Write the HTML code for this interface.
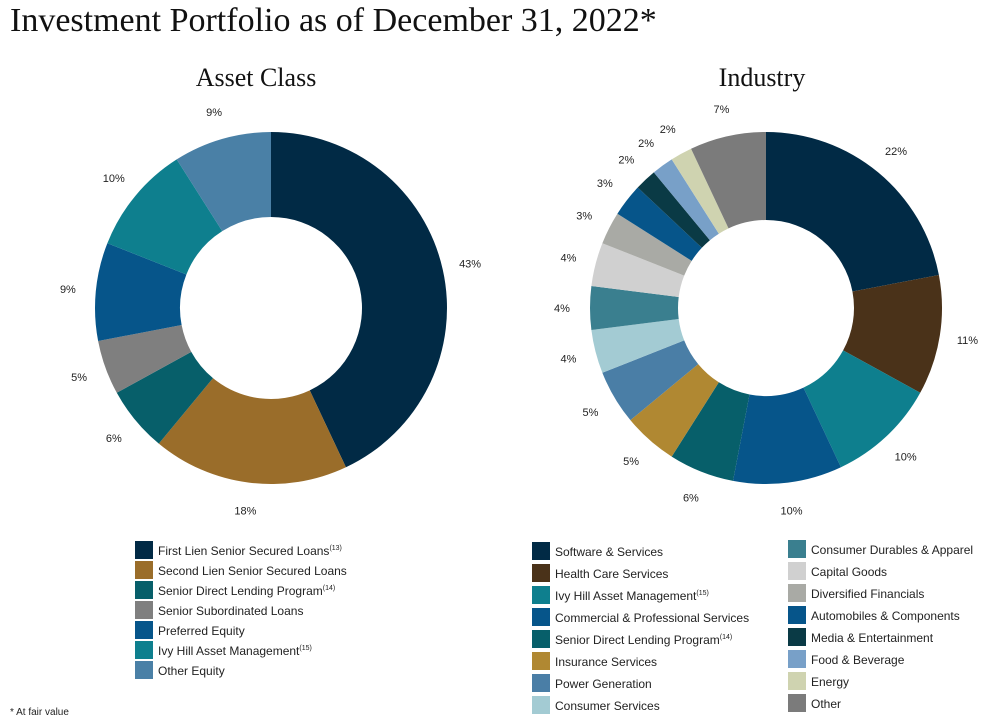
<!DOCTYPE html>
<html><head><meta charset="utf-8"><style>
body{margin:0;background:#fff;width:998px;height:720px;overflow:hidden;font-family:"Liberation Sans",sans-serif}
svg{position:absolute;left:0;top:0}
</style></head><body>
<svg id="c" width="998" height="720" xmlns="http://www.w3.org/2000/svg">
<text x="10" y="31" font-family="Liberation Serif,serif" font-size="34" fill="#111">Investment Portfolio as of December 31, 2022*</text>
<text x="256" y="86" text-anchor="middle" font-family="Liberation Serif,serif" font-size="26" fill="#111">Asset Class</text>
<text x="762" y="86" text-anchor="middle" font-family="Liberation Serif,serif" font-size="26" fill="#111">Industry</text>
<text x="10" y="715" font-size="10" fill="#222">* At fair value</text>
<g id="g1"></g><g id="g2"></g>
</svg>
<script>
const assetLabels=["First Lien Senior Secured Loans","Second Lien Senior Secured Loans","Senior Direct Lending Program","Senior Subordinated Loans","Preferred Equity","Ivy Hill Asset Management","Other Equity"];
const assetSup=["(13)","","(14)","","","(15)",""];
const assetValues=[43,18,6,5,9,10,9];
const assetColors=["#012a45","#9a6d2a","#075f6a","#7f7f7f","#06558a","#0e7f8e","#4a80a6"];

const indSlices=["Software & Services","Health Care Services","Ivy Hill Asset Management","Commercial & Professional Services","Senior Direct Lending Program","Insurance Services","Power Generation","Consumer Services","Consumer Durables & Apparel","Capital Goods","Diversified Financials","Automobiles & Components","Media & Entertainment","Food & Beverage","Energy","Other"];
const indValues=[22,11,10,10,6,5,5,4,4,4,3,3,2,2,2,7];
const indColors=["#012a45","#4a3219","#0e7f8e","#06558a","#075f6a","#b08832","#4a7ea6","#a3cbd3","#3a7f8f","#d0d0d0","#a9aaa5","#06558a","#0a3a45","#78a0c8","#cfd3b0","#7b7b7b"];
const indLegend=["Software & Services","Health Care Services","Ivy Hill Asset Management","Commercial & Professional Services","Senior Direct Lending Program","Insurance Services","Power Generation","Consumer Services","Consumer Durables & Apparel","Capital Goods","Diversified Financials","Automobiles & Components","Media & Entertainment","Food & Beverage","Energy","Other"];
const indSup=["","","(15)","","(14)","","","","","","","","","","",""];

const NS="http://www.w3.org/2000/svg";
function mk(t,a,p){const e=document.createElementNS(NS,t);for(const k in a)e.setAttribute(k,a[k]);p.appendChild(e);return e;}
function donut(g,cx,cy,R,r,vals,cols,names,prefix){
  const tot=vals.reduce((a,b)=>a+b,0);let a0=0;
  vals.forEach((v,i)=>{
    const a1=a0+v/tot*2*Math.PI;
    const p=(a,rr)=>[cx+rr*Math.sin(a),cy-rr*Math.cos(a)];
    const [x1,y1]=p(a0,R),[x2,y2]=p(a1,R),[x3,y3]=p(a1,r),[x4,y4]=p(a0,r);
    const lg=(a1-a0)>Math.PI?1:0;
    const s=mk('path',{d:`M${x1},${y1}A${R},${R} 0 ${lg} 1 ${x2},${y2}L${x3},${y3}A${r},${r} 0 ${lg} 0 ${x4},${y4}Z`,fill:cols[i]},g);
    
    
    const m=(a0+a1)/2;const [lx,ly]=p(m,R+28);
    const t=mk('text',{x:lx,y:ly+4,'text-anchor':'middle','font-size':11,fill:'#222'},g);
    t.textContent=v+'%';
    
    
    a0=a1;
  });
}
function legend(g,x,y,dy,names,sups,cols,prefix){
  names.forEach((n,i)=>{
    const r=mk('rect',{x:x,y:y+i*dy-9,width:18,height:18,fill:cols[i]},g);
    
    
    const t=mk('text',{x:x+23,y:y+i*dy+5,'font-size':12,fill:'#222'},g);
    t.textContent=n;
    if(sups[i]){const s=mk('tspan',{'font-size':7,dy:-5},t);s.textContent=sups[i];}
    
    
  });
}
const g1=document.getElementById('g1'),g2=document.getElementById('g2');
donut(g1,271,308,176,91,assetValues,assetColors,assetLabels,'asset');
donut(g2,766,308,176,88,indValues,indColors,indSlices,'industry');
legend(g1,135,550,20,assetLabels,assetSup,assetColors,'asset');
const legCol=indLegend.map(n=>indColors[indSlices.indexOf(n)]);
legend(g2,532,551,22,indLegend.slice(0,8),indSup.slice(0,8),legCol.slice(0,8),'industry');
legend(g2,788,549,22,indLegend.slice(8),indSup.slice(8),legCol.slice(8),'industry');
</script>
</body></html>
